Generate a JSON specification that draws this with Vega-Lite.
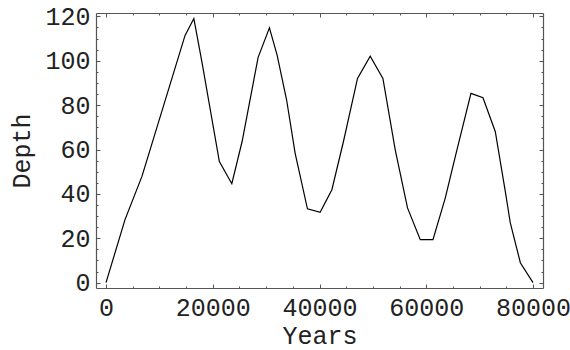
{
  "$schema": "https://vega.github.io/schema/vega-lite/v6.json",
  "width": 447,
  "height": 275,
  "autosize": "none",
  "padding": {"left": 96, "top": 13, "right": 27, "bottom": 62},
  "background": "white",
  "config": {
    "view": {"stroke": null},
    "axis": {
      "labelFont": "Liberation Mono",
      "titleFont": "Liberation Mono",
      "labelFontSize": 25,
      "titleFontSize": 25,
      "labelColor": "#222222",
      "titleColor": "#222222",
      "titleFontWeight": "normal",
      "domainColor": "#555555",
      "domainWidth": 1.2,
      "tickColor": "#555555",
      "tickWidth": 1,
      "grid": false
    }
  },
  "data": {
    "values": [
      {"Years": 0, "Depth": 0},
      {"Years": 3560, "Depth": 28.4},
      {"Years": 6750, "Depth": 48},
      {"Years": 14810, "Depth": 111.4},
      {"Years": 16460, "Depth": 119},
      {"Years": 18000, "Depth": 99},
      {"Years": 21240, "Depth": 54.6},
      {"Years": 23570, "Depth": 44.6},
      {"Years": 25500, "Depth": 63.6},
      {"Years": 28500, "Depth": 101.5},
      {"Years": 30620, "Depth": 114.8},
      {"Years": 32060, "Depth": 102.5},
      {"Years": 33840, "Depth": 82.3},
      {"Years": 35440, "Depth": 58.3},
      {"Years": 37740, "Depth": 33.3},
      {"Years": 40120, "Depth": 31.7},
      {"Years": 42320, "Depth": 41.9},
      {"Years": 44490, "Depth": 63.6},
      {"Years": 47120, "Depth": 92},
      {"Years": 49500, "Depth": 102},
      {"Years": 51880, "Depth": 92},
      {"Years": 54190, "Depth": 59.8},
      {"Years": 56490, "Depth": 33.7},
      {"Years": 58880, "Depth": 19.4},
      {"Years": 61260, "Depth": 19.4},
      {"Years": 63560, "Depth": 38.1},
      {"Years": 65440, "Depth": 56.8},
      {"Years": 68380, "Depth": 85.3},
      {"Years": 70630, "Depth": 83.3},
      {"Years": 72940, "Depth": 68},
      {"Years": 74810, "Depth": 41.1},
      {"Years": 75750, "Depth": 26.9},
      {"Years": 77630, "Depth": 9},
      {"Years": 80000, "Depth": 0}
    ]
  },
  "layer": [
    {
      "mark": {"type": "line", "color": "black", "strokeWidth": 1.2},
      "encoding": {
        "x": {
          "field": "Years",
          "type": "quantitative",
          "scale": {"domain": [-1875, 81875], "nice": false, "zero": false},
          "axis": {
            "orient": "bottom",
            "values": [0, 5000, 10000, 15000, 20000, 25000, 30000, 35000, 40000, 45000, 50000, 55000, 60000, 65000, 70000, 75000, 80000],
            "format": "d",
            "labelExpr": "datum.value % 20000 === 0 ? datum.label : ''",
            "tickSize": {"condition": {"test": "datum.value % 20000 === 0", "value": -4}, "value": -2},
            "labelPadding": 11,
            "labelFlush": false,
            "labelOverlap": false,
            "title": "Years",
            "titlePadding": 1
          }
        },
        "y": {
          "field": "Depth",
          "type": "quantitative",
          "scale": {"domain": [-2.4, 121.5], "nice": false, "zero": false},
          "axis": {
            "orient": "left",
            "values": [0, 5, 10, 15, 20, 25, 30, 35, 40, 45, 50, 55, 60, 65, 70, 75, 80, 85, 90, 95, 100, 105, 110, 115, 120],
            "format": "d",
            "labelExpr": "datum.value % 20 === 0 ? datum.label : ''",
            "tickSize": {"condition": {"test": "datum.value % 20 === 0", "value": -4}, "value": -2},
            "labelPadding": 10,
            "labelFlush": false,
            "labelOverlap": false,
            "title": "Depth",
            "titlePadding": 10
          }
        }
      }
    },
    {
      "mark": {"type": "line", "opacity": 0},
      "encoding": {
        "x": {
          "field": "Years",
          "type": "quantitative",
          "axis": {
            "orient": "top",
            "values": [0, 5000, 10000, 15000, 20000, 25000, 30000, 35000, 40000, 45000, 50000, 55000, 60000, 65000, 70000, 75000, 80000],
            "labels": false,
            "tickSize": {"condition": {"test": "datum.value % 20000 === 0", "value": -4}, "value": -2},
            "title": null
          }
        },
        "y": {
          "field": "Depth",
          "type": "quantitative",
          "axis": {
            "orient": "right",
            "values": [0, 5, 10, 15, 20, 25, 30, 35, 40, 45, 50, 55, 60, 65, 70, 75, 80, 85, 90, 95, 100, 105, 110, 115, 120],
            "labels": false,
            "tickSize": {"condition": {"test": "datum.value % 20 === 0", "value": -4}, "value": -2},
            "title": null
          }
        }
      }
    }
  ],
  "resolve": {"axis": {"x": "independent", "y": "independent"}}
}
